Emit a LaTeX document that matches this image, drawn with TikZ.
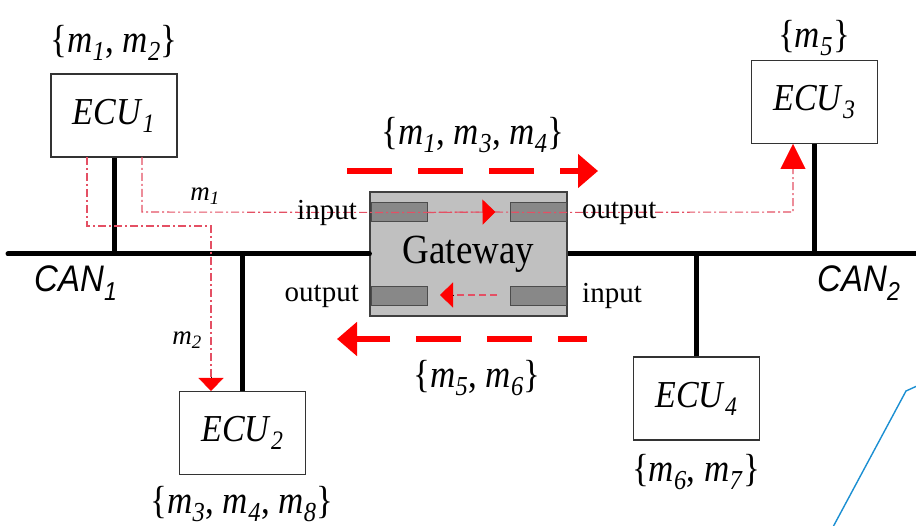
\documentclass[tikz,border=0pt]{standalone}
\usepackage{fontspec}
\setmainfont{Liberation Serif}
\newfontfamily\arialf{Liberation Sans}
\usetikzlibrary{arrows.meta,calc}
\definecolor{msgred}{RGB}{228,80,100}
\definecolor{gwfill}{RGB}{192,192,192}
\definecolor{portfill}{RGB}{136,136,136}
\definecolor{callblue}{RGB}{27,143,210}
\newcommand{\mm}[1]{\textit{m}\textsubscript{\textit{#1}}}
\newcommand{\ecuname}[1]{\textit{ECU}\textsubscript{\textit{#1}}}
\newcommand{\tallt}[1]{\scalebox{1}[1.12]{#1}}
\begin{document}
\begin{tikzpicture}[x=1pt,y=-1pt,
  ecubox/.style={draw=black!80, line width=1.1pt, fill=white, minimum width=126pt, minimum height=83pt, inner sep=0pt, font=\fontsize{34}{40}\selectfont},
  gwbox/.style={draw=black!75, line width=1.1pt, fill=gwfill, minimum width=197pt, minimum height=124pt, inner sep=0pt, font=\fontsize{37}{42}\selectfont},
  portbox/.style={draw=black!70, line width=1pt, fill=portfill, minimum width=56pt, minimum height=19pt, inner sep=0pt},
  bus/.style={line width=5pt},
  msgline/.style={draw=msgred, line width=1.1pt, dash pattern=on 8pt off 3pt on 2pt off 3pt},
  innerline/.style={draw=msgred, line width=1.1pt, dash pattern=on 7pt off 4pt},
  flow/.style={draw=red, line width=6pt, dash pattern=on 45pt off 26pt},
  setlbl/.style={inner sep=0pt, font=\fontsize{35}{38}\selectfont},
  portlbl/.style={inner sep=0pt, font=\fontsize{29}{32}\selectfont},
  msglbl/.style={inner sep=0pt, font=\fontsize{27}{30}\selectfont},
  canlbl/.style={inner sep=0pt, font=\arialf\itshape\fontsize{33}{36}\selectfont},
  bigtip/.tip={Triangle[length=25pt,width=25pt,color=red]},
  smalltip/.tip={Triangle[length=13pt,width=25pt,color=red]},
  flowtip/.tip={Triangle[length=20pt,width=33pt,color=red]}
]
\useasboundingbox (0,0) rectangle (916,526);

% nodes
\node[ecubox] (E1) at (114,115.5) {\tallt{\ecuname{1}}};
\node[ecubox] (E2) at (242.5,433) {\tallt{\ecuname{2}}};
\node[ecubox] (E3) at (814.5,102) {\tallt{\ecuname{3}}};
\node[ecubox] (E4) at (696.5,398.5) {\tallt{\ecuname{4}}};
\node[gwbox] (GW) at (468.5,254) {\tallt{Gateway}};
\node[portbox] (PTL) at (399,212.5) {};
\node[portbox] (PTR) at (538,212.5) {};
\node[portbox] (PBL) at (399,296) {};
\node[portbox] (PBR) at (538,296) {};

% bus
\coordinate (BL) at (8,254);
\coordinate (BR) at (916,254);
\draw[bus, line cap=round] (BL) -- (GW.west);
\draw[bus] (GW.east) -- (BR);
\draw[bus] (E1.south) -- (E1.south |- BL);
\draw[bus] (E2.north) -- (E2.north |- BL);
\draw[bus] (E3.south) -- (E3.south |- BL);
\draw[bus] (E4.north) -- (E4.north |- BL);

% message m1
\coordinate (m1a) at (142,157);
\coordinate (m1b) at (142,212);
\coordinate (m1mid) at (495,212);
\coordinate (m1c) at (793,212);
\coordinate (m1d) at (793,144);
\draw[msgline] (m1a) -- (m1b) -- (PTL.center) -- (m1mid);
\draw[msgline,-{smalltip}] (PTL.east) -- ($(m1mid)+(0.5,0)$);
\draw[msgline] (m1mid) -- (PTR.center) -- (m1c) -- ($(m1d)+(0,25)$);
\draw[-{bigtip}] ($(m1d)+(0,24)$) -- (m1d);

% message m2
\coordinate (m2a) at (87,157);
\coordinate (m2b) at (87,226);
\coordinate (m2c) at (211,226);
\coordinate (m2d) at (211,391);
\draw[msgline] (m2a) -- (m2b) -- (m2c) -- ($(m2d)+(0,-13)$);
\draw[-{smalltip}] ($(m2d)+(0,-14)$) -- (m2d);

% inner return arrow
\coordinate (rA) at (497,295);
\coordinate (rB) at (440,295);
\draw[innerline] (rA) -- ($(rB)+(13,0)$);
\draw[-{smalltip}] ($(rB)+(14,0)$) -- (rB);

% big flow arrows
\coordinate (fA) at (347,171);
\coordinate (fB) at (598,171);
\coordinate (fC) at (587,339);
\coordinate (fD) at (337,339);
\draw[flow,-{flowtip}] (fA) -- (fB);
\draw[flow,dash phase=16pt,-{flowtip}] (fC) -- (fD);

% labels
\node[setlbl] (L1) at (114,43) {\tallt{\{\mm{1}, \mm{2}\}}};
\node[setlbl] (L2) at (242,504) {\tallt{\{\mm{3}, \mm{4}, \mm{8}\}}};
\node[setlbl] (L3) at (814,38) {\tallt{\{\mm{5}\}}};
\node[setlbl] (L4) at (696,472) {\tallt{\{\mm{6}, \mm{7}\}}};
\node[setlbl] (LT) at (473,135) {\tallt{\{\mm{1}, \mm{3}, \mm{4}\}}};
\node[setlbl] (LB) at (477,378) {\tallt{\{\mm{5}, \mm{6}\}}};
\node[canlbl] (C1) at (76,283) {\tallt{CAN\textsubscript{1}}};
\node[canlbl] (C2) at (859,283) {\tallt{CAN\textsubscript{2}}};
\node[portlbl, anchor=east] (IL) at (357,213) {input};
\node[portlbl, anchor=west] (OR) at (582,213) {output};
\node[portlbl, anchor=east] (OL) at (359,296) {output};
\node[portlbl, anchor=west] (IR) at (582,296) {input};
\node[msglbl] (M1) at (205,196) {\mm{1}};
\node[msglbl] (M2) at (187,340) {\mm{2}};

% stray callout line
\coordinate (cb1) at (833,527);
\coordinate (cb2) at (906,391);
\coordinate (cb3) at (917,386);
\draw[callblue, line width=1.4pt] (cb1) -- (cb2) -- (cb3);
\end{tikzpicture}
\end{document}
